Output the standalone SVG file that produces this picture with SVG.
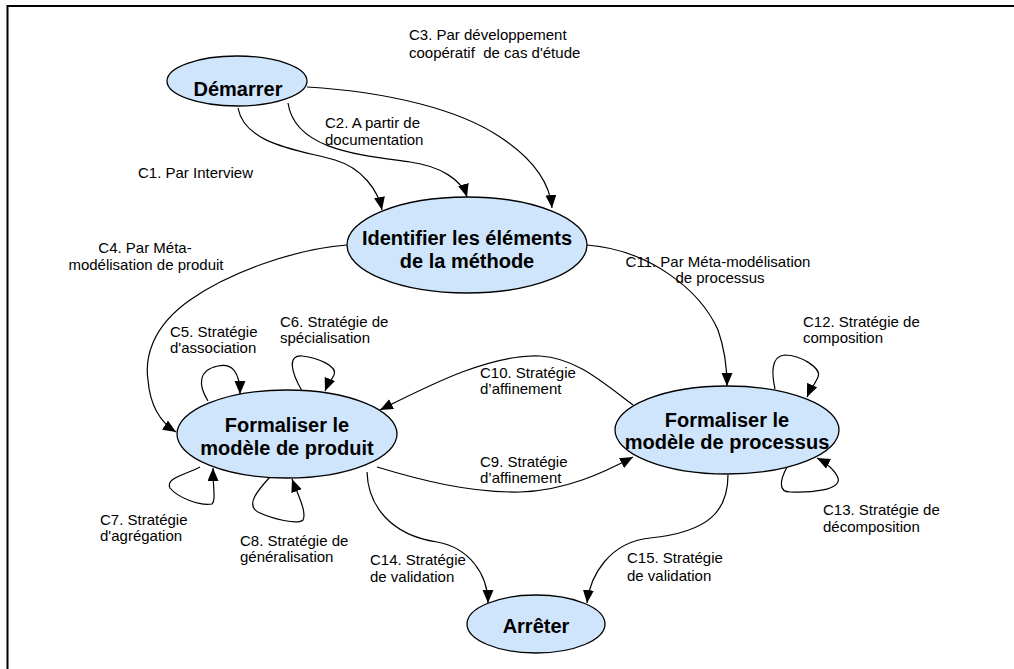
<svg xmlns="http://www.w3.org/2000/svg" width="1014" height="669" viewBox="0 0 1014 669">
  <style>
    .node ellipse { fill: #cfe5fb; stroke: #000; stroke-width: 1.3; }
    .node text { font-family: "Liberation Sans", Arial, sans-serif; font-weight: bold; font-size: 20px; fill: #000; text-anchor: middle; }
    .edge { fill: none; stroke: #000; stroke-width: 1.2; marker-end: url(#arrow); }
    .loop { fill: none; stroke: #000; stroke-width: 1.2; marker-end: url(#arrow); }
    .lbl { font-family: "Liberation Sans", Arial, sans-serif; font-size: 15px; fill: #000; }
    .mid { text-anchor: middle; }
  </style>
  <defs>
    <marker id="arrow" markerUnits="userSpaceOnUse" markerWidth="14" markerHeight="12" refX="13" refY="5.5" orient="auto">
      <path d="M0,0 L13,5.5 L0,11 z" fill="#000"/>
    </marker>
  </defs>

  <rect width="1014" height="669" fill="#fff"/>
  <!-- frame -->
  <path d="M7.5,669 V6 H1014" fill="none" stroke="#000" stroke-width="2"/>

  <!-- connectors -->
  <g id="connectors">
    <path id="c1" class="edge" d="M238,108 C245,145 300,150 335,160 C362,168 378,190 382,210"/>
    <path id="c2" class="edge" d="M288,103 C295,150 360,155 410,162 C440,166 462,180 467,197"/>
    <path id="c3" class="edge" d="M307,87 C390,92 460,110 500,137 C535,160 550,185 552,208"/>
    <path id="c4" class="edge" d="M347,245 C295,249 230,272 190,300 C150,328 145,360 148,380 C150,405 160,422 176,432"/>
    <path id="c5" class="loop" d="M208,401 C198,385 198,370 218,366 C232,363 240,372 240,394"/>
    <path id="c6" class="loop" d="M302,391 C290,370 288,355 302,356 C318,358 338,366 334,375 C331,381 327,386 325,391"/>
    <path id="c7" class="loop" d="M200,467 C185,475 165,478 170,488 C178,498 200,506 212,504 C216,500 213,490 213,468"/>
    <path id="c8" class="loop" d="M270,477 C258,490 245,505 258,512 C272,519 298,525 303,520 C307,512 298,495 292,479"/>
    <path id="c9" class="edge" d="M377,467 C420,480 470,493 520,492 C565,491 605,472 633,457"/>
    <path id="c10" class="edge" d="M633,405 C600,380 575,358 540,356 C490,354 430,385 380,410"/>
    <path id="c11" class="edge" d="M587,245 C650,250 700,290 718,330 C725,350 727,370 727,386"/>
    <path id="c12" class="loop" d="M775,389 C772,375 770,356 785,355 C800,355 822,368 818,377 C815,384 810,390 807,397"/>
    <path id="c13" class="loop" d="M787,467 C780,480 778,492 790,492 C810,493 842,490 838,478 C835,470 825,462 817,458"/>
    <path id="c14" class="edge" d="M367,472 C368,505 390,535 437,542 C470,548 488,575 488,603"/>
    <path id="c15" class="edge" d="M728,475 C728,510 710,532 650,538 C610,542 590,575 587,603"/>
  </g>

  <!-- connector labels -->
  <g id="labels">
    <text class="lbl" x="409" y="40">C3. Par développement</text>
    <text class="lbl" x="409" y="58" style="white-space:pre">coopératif  de cas d'étude</text>
    <text class="lbl" x="325" y="128">C2. A partir de</text>
    <text class="lbl" x="325" y="145">documentation</text>
    <text class="lbl" x="138" y="178">C1. Par Interview</text>
    <text class="lbl mid" x="145" y="253">C4. Par Méta-</text>
    <text class="lbl mid" x="146" y="270">modélisation de produit</text>
    <text class="lbl" x="170" y="337">C5. Stratégie</text>
    <text class="lbl" x="170" y="353">d'association</text>
    <text class="lbl" x="280" y="327">C6. Stratégie de</text>
    <text class="lbl" x="280" y="343">spécialisation</text>
    <text class="lbl mid" x="718" y="267">C11. Par Méta-modélisation</text>
    <text class="lbl mid" x="720" y="283">de processus</text>
    <text class="lbl" x="803" y="327">C12. Stratégie de</text>
    <text class="lbl" x="803" y="343">composition</text>
    <text class="lbl" x="480" y="378">C10. Stratégie</text>
    <text class="lbl" x="480" y="394">d’affinement</text>
    <text class="lbl" x="480" y="467">C9. Stratégie</text>
    <text class="lbl" x="480" y="483">d’affinement</text>
    <text class="lbl" x="100" y="525">C7. Stratégie</text>
    <text class="lbl" x="100" y="541">d'agrégation</text>
    <text class="lbl" x="240" y="546">C8. Stratégie de</text>
    <text class="lbl" x="240" y="562">généralisation</text>
    <text class="lbl" x="370" y="565">C14. Stratégie</text>
    <text class="lbl" x="370" y="582">de validation</text>
    <text class="lbl" x="627" y="563">C15. Stratégie</text>
    <text class="lbl" x="627" y="581">de validation</text>
    <text class="lbl" x="823" y="515">C13. Stratégie de</text>
    <text class="lbl" x="823" y="532">décomposition</text>
  </g>

  <!-- nodes -->
  <g id="demarrer" class="node">
    <ellipse cx="237" cy="81" rx="70" ry="25"/>
    <text x="238" y="96">Démarrer</text>
  </g>
  <g id="identifier" class="node">
    <ellipse cx="467" cy="245" rx="120" ry="48"/>
    <text x="467" y="245">Identifier les éléments</text>
    <text x="467" y="268">de la méthode</text>
  </g>
  <g id="produit" class="node">
    <ellipse cx="287" cy="434" rx="110" ry="44"/>
    <text x="287" y="432">Formaliser le</text>
    <text x="287" y="455">modèle de produit</text>
  </g>
  <g id="processus" class="node">
    <ellipse cx="727" cy="430" rx="112" ry="44"/>
    <text x="727" y="427">Formaliser le</text>
    <text x="727" y="449">modèle de processus</text>
  </g>
  <g id="arreter" class="node">
    <ellipse cx="536" cy="624" rx="69" ry="29"/>
    <text x="536" y="633">Arrêter</text>
  </g>
</svg>
